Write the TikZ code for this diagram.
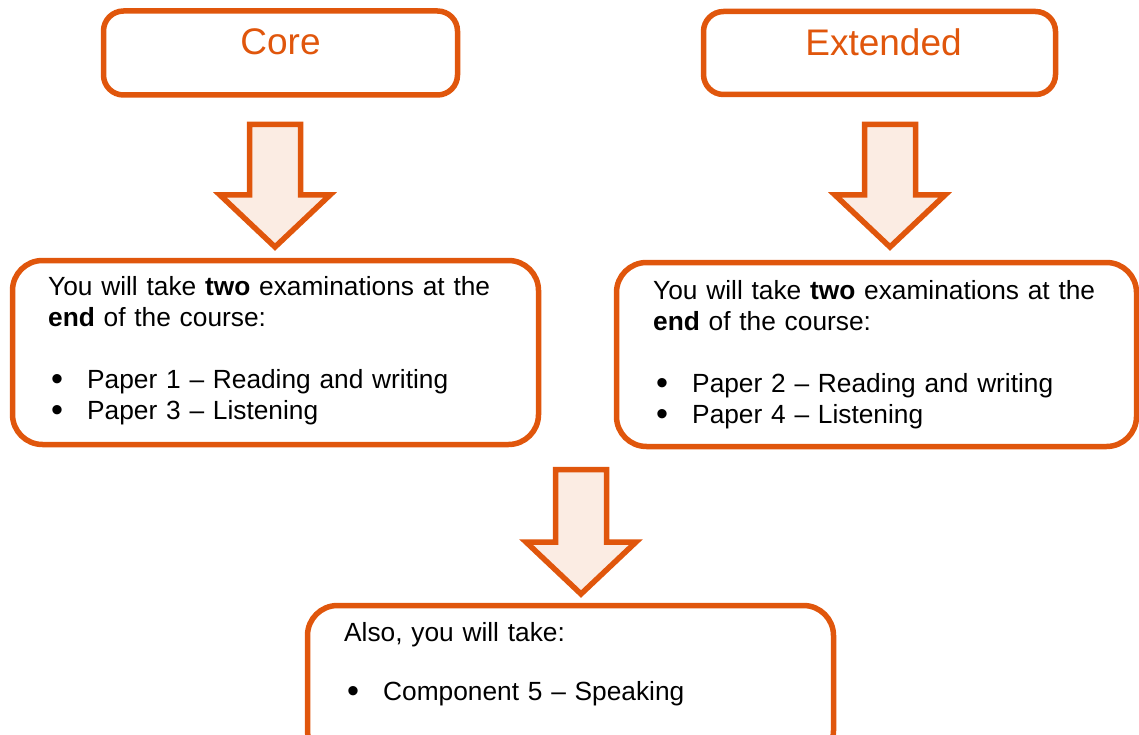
\documentclass[tikz,border=0pt]{standalone}
\usepackage{fontspec}
\setmainfont{Liberation Sans}
\usepackage{graphicx}
\usepackage{tikz}
\usetikzlibrary{calc}

\definecolor{edge}{RGB}{224,86,12}
\definecolor{peach}{RGB}{251,236,227}
\newcommand{\bul}[1]{\hspace*{3pt}\makebox[36pt][l]{\smash{\raisebox{-2pt}{\scalebox{1.3}{\textbullet}}}}#1}

\begin{document}
\begin{tikzpicture}
	[
	x=1pt, y=-1pt,
	box/.style={draw=edge, line width=5.5pt, inner sep=0pt},
	title/.style={text=edge, font=\fontsize{37}{44}\selectfont, text depth=22pt},
	body/.style={align=left, anchor=north west, inner sep=0pt, text width=470pt, font=\fontsize{26.3}{31}\selectfont},
	blockarrow/.style={draw=edge, fill=peach, line width=5.5pt},
	]
		\useasboundingbox (0,0) rectangle (1139,735);

		% titles
		\node[box, title, rounded corners=20pt, minimum width=354pt, minimum height=84pt] (core) at 	(280.5, 53.0) {Core};
		\node[box, title, rounded corners=20pt, minimum width=352pt, minimum height=83pt] (ext) at 	(879.5, 53.0) {\hspace*{8pt}Extended};

		% examination boxes
		\node[box, rounded corners=30pt, minimum width=526pt, minimum height=184pt] (lbox) at 	(275.5, 352.5) {};
		\node[box, rounded corners=30pt, minimum width=520pt, minimum height=184pt] (rbox) at 	(876.5, 354.5) {};
		\node[box, rounded corners=30pt, minimum width=526pt, minimum height=155pt] (bbox) at 	(570.5, 683.0) {};

		\node[body] (ltext) at 		( 48.0, 276.5) {You will take \textbf{two} examinations at the\\ \textbf{end} of the course:\\[31pt] \bul{Paper 1 – Reading and writing}\\ \bul{Paper 3 – Listening}};
		\node[body] (rtext) at 		(653.0, 280.5) {You will take \textbf{two} examinations at the\\ \textbf{end} of the course:\\[31pt] \bul{Paper 2 – Reading and writing}\\ \bul{Paper 4 – Listening}};
		\node[body] (btext) at 		(344.0, 622.5) {Also, you will take:\\[28pt] \bul{Component 5 – Speaking}};

		% arrows
		\coordinate (ca) at 		(275.0, 124.5);
		\coordinate (ct) at 		(275.0, 247.0);
		\coordinate (ea) at 		(890.0, 124.5);
		\coordinate (et) at 		(890.0, 247.0);
		\coordinate (ba) at 		(581.0, 469.5);
		\coordinate (bt) at 		(581.0, 594.0);

		\foreach \from/\to in {ca/ct,ea/et,ba/bt} \draw[blockarrow] ($(\from)+(-25.5,0)$) -- ($(\from)+(25.5,0)$) -- ($(\to)+(25.5,-52)$) -- ($(\to)+(55,-52)$) -- (\to) -- ($(\to)+(-55,-52)$) -- ($(\to)+(-25.5,-52)$) -- cycle;

	\end{tikzpicture}
\end{document}
